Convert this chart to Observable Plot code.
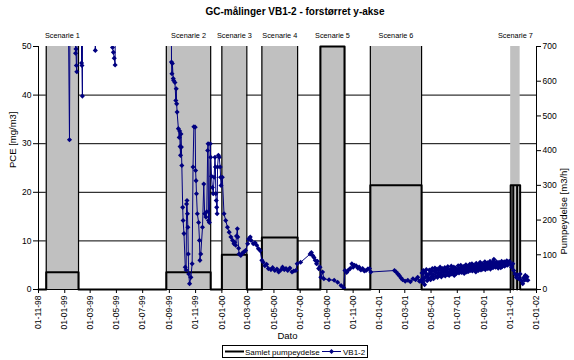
<!DOCTYPE html>
<html><head><meta charset="utf-8">
<script src="https://cdn.jsdelivr.net/npm/d3@7"></script>
<script src="https://cdn.jsdelivr.net/npm/@observablehq/plot@0.6"></script>
<style>
body{margin:0;background:#fff;font-family:"Liberation Sans",Arial,sans-serif;}
#title{height:22px;line-height:24px;font-size:10px;font-weight:bold;text-align:center;padding-left:16px;width:558px;}
svg{display:block;}
</style></head><body>
<div id="title">GC-målinger VB1-2 - forstørret y-akse</div>
<div id="chart"></div>
<svg id="legend" width="574" height="16">
  <rect x="222.5" y="1.5" width="145" height="12" fill="#fff" stroke="#000"/>
  <line x1="225" x2="244" y1="7.5" y2="7.5" stroke="#000" stroke-width="2"/>
  <text x="245" y="10.5" font-size="8" font-family="Liberation Sans, Arial, sans-serif">Samlet pumpeydelse</text>
  <line x1="322" x2="341" y1="7.5" y2="7.5" stroke="#000080" stroke-width="1"/>
  <path d="M331.5,5 L334,7.5 L331.5,10 L329,7.5 Z" fill="#000080"/>
  <text x="343" y="10.5" font-size="8" font-family="Liberation Sans, Arial, sans-serif">VB1-2</text>
</svg>
<script>
// ---------- data ----------
const scenarioNames = ["Scenarie 1","Scenarie 2","Scenarie 3","Scenarie 4","Scenarie 5","Scenarie 6","Scenarie 7"];
const scenarioStart = ["1998-11-19","1999-08-25","2000-01-01","2000-04-03","2000-08-17","2000-12-11","2001-11-02"];
const scenarioEnd   = ["1999-02-02","1999-12-06","2000-02-28","2000-06-25","2000-10-12","2001-04-09","2001-11-24"];

// Samlet pumpeydelse [m3/h]
const pumpDates = ["1998-11-01","1998-11-19","1998-11-19","1999-02-02","1999-02-02",
  "1999-08-25","1999-08-25","1999-12-06","1999-12-06",
  "2000-01-01","2000-01-01","2000-02-28","2000-02-28",
  "2000-04-03","2000-04-03","2000-06-25","2000-06-25",
  "2000-08-17","2000-08-17","2000-10-12","2000-10-12",
  "2000-12-11","2000-12-11","2001-04-09","2001-04-09",
  "2001-11-02","2001-11-02","2001-11-08","2001-11-08","2001-11-08",
  "2001-11-17","2001-11-17","2001-11-17","2001-11-24","2001-11-24","2002-01-01"];
const pumpRates = [0,0,50,50,0,
  0,50,50,0,
  0,100,100,0,
  0,150,150,0,
  0,700,700,0,
  0,300,300,0,
  0,300,300,0,300,
  300,0,300,300,0,0];

// VB1-2 PCE [mg/m3] (values above 50 lie outside the enlarged axis)
const vb12 = [
["1999-01-05",100],["1999-01-12",30.8],["1999-01-15",100],
["1999-01-25",100],["1999-01-26",48.6],["1999-01-27",49.5],["1999-01-28",46.1],["1999-01-29",44.8],["1999-01-31",100],
["1999-02-08",100],["1999-02-09",46.6],["1999-02-10",46.1],["1999-02-11",39.8],["1999-02-12",100],
["1999-03-12",100],["1999-03-13",49.2],["1999-03-14",100],
["1999-04-21",100],["1999-04-22",49.8],["1999-04-24",48.8],["1999-04-26",47.6],["1999-04-28",46.2],["1999-04-30",100],
["1999-09-04",100],["1999-09-06",46.8],["1999-09-07",44.4],["1999-09-08",46.5],["1999-09-10",43.4],["1999-09-11",43.0],
["1999-09-14",42.6],["1999-09-16",38.9],["1999-09-17",41.3],["1999-09-18",38.2],["1999-09-19",36.5],["1999-09-22",33.1],
["1999-09-24",31.3],["1999-09-25",32.6],["1999-09-26",29.4],["1999-09-27",27.6],["1999-09-28",32.0],["1999-09-29",29.3],
["1999-09-30",25.5],["1999-10-02",16.9],["1999-10-03",14.2],["1999-10-05",11.5],["1999-10-08",4.6],["1999-10-10",4.0],
["1999-10-11",17.6],["1999-10-12",18.3],["1999-10-13",15.6],["1999-10-14",12.8],["1999-10-15",7.3],["1999-10-16",3.2],
["1999-10-18",1.2],["1999-10-21",2.5],["1999-10-24",5.3],["1999-10-26",25.2],["1999-10-28",33.5],["1999-10-31",33.4],
["1999-11-01",24.5],["1999-11-02",22.4],["1999-11-03",19.7],["1999-11-05",15.6],["1999-11-08",13.8],["1999-11-10",10.1],
["1999-11-11",6.0],["1999-11-13",7.3],["1999-11-17",12.8],["1999-11-20",21.7],["1999-11-22",15.6],["1999-11-25",14.9],
["1999-11-27",16.0],["1999-11-29",28.6],["1999-11-30",30.0],["1999-12-01",14.2],["1999-12-03",13.8],["1999-12-05",30.0],
["1999-12-06",27.2],["1999-12-08",23.3],["1999-12-10",21.0],["1999-12-12",19.7],["1999-12-14",23.1],["1999-12-16",27.2],
["1999-12-17",25.2],["1999-12-18",19.7],["1999-12-19",18.3],["1999-12-20",16.9],["1999-12-21",15.6],["1999-12-22",25.2],
["1999-12-24",27.6],["1999-12-26",27.2],["1999-12-28",25.2],["1999-12-29",23.1],["1999-12-30",21.4],
["2000-01-02",23.1],["2000-01-06",15.6],["2000-01-10",14.2],["2000-01-14",12.8],["2000-01-18",11.8],["2000-01-22",10.8],
["2000-01-26",10.1],["2000-01-29",9.4],["2000-01-31",9.7],["2000-02-02",9.1],["2000-02-04",11.0],["2000-02-06",12.5],
["2000-02-07",10.8],["2000-02-09",8.5],["2000-02-10",7.3],["2000-02-14",7.0],["2000-02-18",7.5],["2000-02-21",7.7],
["2000-02-25",8.0],["2000-03-01",9.4],["2000-03-03",10.4],["2000-03-07",10.8],["2000-03-09",10.1],["2000-03-14",9.4],
["2000-03-18",9.6],["2000-03-22",9.1],["2000-03-26",8.4],["2000-03-30",8.0],
["2000-04-03",6.0],["2000-04-06",5.6],["2000-04-10",4.9],["2000-04-14",5.2],["2000-04-18",4.3],["2000-04-24",4.1],
["2000-04-28",4.5],["2000-05-03",3.9],["2000-05-08",4.2],["2000-05-12",3.6],["2000-05-17",4.0],["2000-05-21",4.6],
["2000-05-25",4.1],["2000-05-29",4.3],["2000-06-02",3.9],["2000-06-07",4.4],["2000-06-12",3.6],["2000-06-16",3.8],
["2000-06-21",3.9],["2000-06-24",5.3],["2000-07-02",5.6],
["2000-07-24",7.3],["2000-07-27",7.6],["2000-07-30",7.0],["2000-08-02",6.6],["2000-08-05",6.0],["2000-08-08",5.3],
["2000-08-10",5.8],["2000-08-13",4.3],["2000-08-16",4.6],["2000-08-18",2.5],["2000-08-22",3.6],["2000-08-25",2.2],
["2000-09-06",2.0],["2000-09-18",1.9],["2000-09-26",1.5],["2000-10-04",0.8],["2000-10-10",0.35],
["2000-10-13",3.9],["2000-10-17",3.5],["2000-10-20",3.9],["2000-10-25",4.3],["2000-10-29",5.3],["2000-11-01",4.6],
["2000-11-04",5.0],["2000-11-08",4.9],["2000-11-12",4.4],["2000-11-15",4.6],["2000-11-19",4.0],["2000-11-23",4.3],
["2000-11-27",3.8],["2000-12-01",3.9],["2000-12-05",4.2],["2000-12-09",4.3],["2000-12-12",3.6],
["2001-02-05",3.9],["2001-02-09",3.6],["2001-02-13",3.2],["2001-02-16",2.9],["2001-02-20",2.4],["2001-02-24",2.0],
["2001-03-02",1.7],["2001-03-08",1.9],["2001-03-14",1.6],["2001-03-20",2.2],["2001-03-26",2.0],["2001-03-31",2.5],
["2001-04-04",1.7],["2001-04-08",1.9],
["2001-04-10",3.4],["2001-04-11",1.5],["2001-04-13",3.9],["2001-04-14",2.2],["2001-04-16",1.0],["2001-04-17",3.5],
["2001-04-19",2.6],["2001-04-20",4.1],["2001-04-22",1.8],["2001-04-23",3.0],["2001-04-25",2.4],["2001-04-27",4.0],
["2001-04-28",3.3],["2001-04-30",2.0],
["2001-05-01",3.7],["2001-05-03",2.6],["2001-05-04",4.3],["2001-05-06",3.1],["2001-05-07",2.2],["2001-05-09",3.8],
["2001-05-10",4.4],["2001-05-12",2.7],["2001-05-13",3.5],["2001-05-15",4.2],["2001-05-16",2.5],["2001-05-18",3.3],
["2001-05-19",4.0],["2001-05-21",2.9],["2001-05-22",4.6],["2001-05-24",3.4],["2001-05-25",2.6],["2001-05-27",3.9],
["2001-05-28",4.3],["2001-05-30",3.0],["2001-05-31",3.6],
["2001-06-02",4.5],["2001-06-03",2.8],["2001-06-05",3.7],["2001-06-06",4.2],["2001-06-08",3.1],["2001-06-09",4.7],
["2001-06-11",3.4],["2001-06-12",2.9],["2001-06-14",4.1],["2001-06-15",3.6],["2001-06-17",4.8],["2001-06-18",3.2],
["2001-06-20",4.0],["2001-06-21",3.5],["2001-06-23",4.6],["2001-06-24",2.9],["2001-06-26",3.8],["2001-06-27",4.4],
["2001-06-29",3.3],["2001-06-30",4.1],
["2001-07-02",3.6],["2001-07-03",4.9],["2001-07-05",3.4],["2001-07-06",4.2],["2001-07-08",3.8],["2001-07-09",5.0],
["2001-07-11",3.5],["2001-07-12",4.4],["2001-07-14",3.9],["2001-07-15",4.7],["2001-07-17",3.3],["2001-07-18",4.5],
["2001-07-20",4.0],["2001-07-21",5.1],["2001-07-23",3.6],["2001-07-24",4.3],["2001-07-26",4.8],["2001-07-27",3.7],
["2001-07-29",4.5],["2001-07-30",5.2],
["2001-08-01",3.9],["2001-08-02",4.6],["2001-08-04",5.3],["2001-08-05",3.8],["2001-08-07",4.4],["2001-08-08",5.0],
["2001-08-10",4.1],["2001-08-11",4.7],["2001-08-13",3.6],["2001-08-14",5.4],["2001-08-16",4.3],["2001-08-17",4.9],
["2001-08-19",3.9],["2001-08-20",5.1],["2001-08-22",4.5],["2001-08-23",5.6],["2001-08-25",4.0],["2001-08-26",4.8],
["2001-08-28",5.3],["2001-08-29",4.2],["2001-08-31",5.0],
["2001-09-01",4.4],["2001-09-03",5.7],["2001-09-04",4.1],["2001-09-06",5.2],["2001-09-07",4.6],["2001-09-09",5.5],
["2001-09-10",4.3],["2001-09-12",5.0],["2001-09-13",4.7],["2001-09-15",5.8],["2001-09-16",4.2],["2001-09-18",5.3],
["2001-09-19",4.8],["2001-09-21",5.6],["2001-09-22",4.5],["2001-09-24",6.2],["2001-09-25",4.9],["2001-09-27",5.4],
["2001-09-28",4.6],["2001-09-30",5.7],
["2001-10-01",4.8],["2001-10-03",5.3],["2001-10-04",4.4],["2001-10-06",5.6],["2001-10-07",4.9],["2001-10-09",5.2],
["2001-10-10",4.5],["2001-10-12",5.8],["2001-10-13",4.7],["2001-10-15",5.4],["2001-10-16",5.0],["2001-10-18",5.7],
["2001-10-19",4.8],["2001-10-21",5.5],["2001-10-22",5.1],["2001-10-24",5.9],["2001-10-25",5.0],["2001-10-27",5.6],
["2001-10-28",5.2],["2001-10-30",5.8],
["2001-11-01",5.3],["2001-11-04",4.6],["2001-11-07",5.3],["2001-11-09",3.9],["2001-11-12",3.2],["2001-11-15",2.5],
["2001-11-18",3.0],["2001-11-21",2.2],["2001-11-24",3.2],["2001-11-27",1.8],["2001-11-30",1.2],["2001-12-02",2.4],
["2001-12-04",1.9],["2001-12-06",2.9],["2001-12-08",2.0],["2001-12-10",2.6],["2001-12-12",1.9]
];

const leftTicks = [0,10,20,30,40,50];
const gridValues = [10,20,30,40];
const rightTicks = [0,100,200,300,400,500,600,700];
const xTicks = ["1998-11-01","1999-01-01","1999-03-01","1999-05-01","1999-07-01","1999-09-01","1999-11-01",
  "2000-01-01","2000-03-01","2000-05-01","2000-07-01","2000-09-01","2000-11-01",
  "2001-01-01","2001-03-01","2001-05-01","2001-07-01","2001-09-01","2001-11-01","2002-01-01"];

// ---------- build ----------
const parse = d3.utcParse("%Y-%m-%d");
const K = 50 / 700; // right axis (m3/h) onto left axis (mg/m3)
const vb = vb12.map(([d, v]) => ({date: parse(d), v}));
const pump = pumpDates.map((d, i) => ({date: parse(d), y: pumpRates[i] * K}));
const sc = scenarioNames.map((n, i) => ({name: n, s: parse(scenarioStart[i]), e: parse(scenarioEnd[i])}));
const x0 = parse(xTicks[0]), x1 = parse(xTicks[xTicks.length - 1]);
const font = "Liberation Sans, Arial, sans-serif";

const chart = Plot.plot({
  width: 574, height: 322,
  marginLeft: 38, marginRight: 38, marginTop: 24, marginBottom: 55,
  style: {fontFamily: font, fontSize: "8.5px", color: "#000", background: "#fff", overflow: "visible"},
  x: {type: "utc", domain: [x0, x1]},
  y: {domain: [0, 50]},
  marks: [
    Plot.ruleY(gridValues, {stroke: "#000", strokeWidth: 1}),
    Plot.rect(sc, {x1: "s", x2: "e", y1: 0, y2: 50, fill: "#c0c0c0"}),
    Plot.ruleX(sc.slice(0, 6).flatMap(d => [d.s, d.e]), {stroke: "#000", strokeWidth: 1.2}),
    Plot.line(pump, {x: "date", y: "y", stroke: "#000", strokeWidth: 2}),
    Plot.line(vb, {x: "date", y: "v", stroke: "#000080", strokeWidth: 1, clip: true}),
    Plot.dot(vb.filter(d => d.v <= 50), {x: "date", y: "v", symbol: "diamond2", r: 2.3, fill: "#000080", stroke: "none", clip: true}),
    Plot.ruleX([x0, x1], {stroke: "#000", strokeWidth: 1}),
    Plot.ruleY([0], {stroke: "#000", strokeWidth: 1}),
    Plot.axisY(leftTicks, {anchor: "left", tickSize: 5, tickPadding: 2, label: null}),
    Plot.axisY(rightTicks.map(v => v * K), {anchor: "right", tickSize: 4, tickPadding: 2, tickFormat: v => Math.round(v / K), label: null}),
    Plot.axisX(xTicks.map(parse), {anchor: "bottom", tickRotate: -90, tickSize: 4, tickPadding: 2, tickFormat: d3.utcFormat("%d-%m-%y"), label: null}),
    Plot.text(sc, {x: d => new Date((+d.s + +d.e) / 2), y: 50, dy: -11, text: "name", fontSize: 7.3}),
    Plot.text(["PCE [mg/m3]"], {text: d => d, frameAnchor: "left", dx: -26, rotate: -90, fontSize: 9.5}),
    Plot.text(["Pumpeydelse [m3/h]"], {text: d => d, frameAnchor: "right", dx: 27, rotate: -90, fontSize: 9.5}),
    Plot.text(["Dato"], {text: d => d, frameAnchor: "bottom", dy: 49, fontSize: 9.5})
  ]
});
document.getElementById("chart").appendChild(chart);
</script>
</body></html>
